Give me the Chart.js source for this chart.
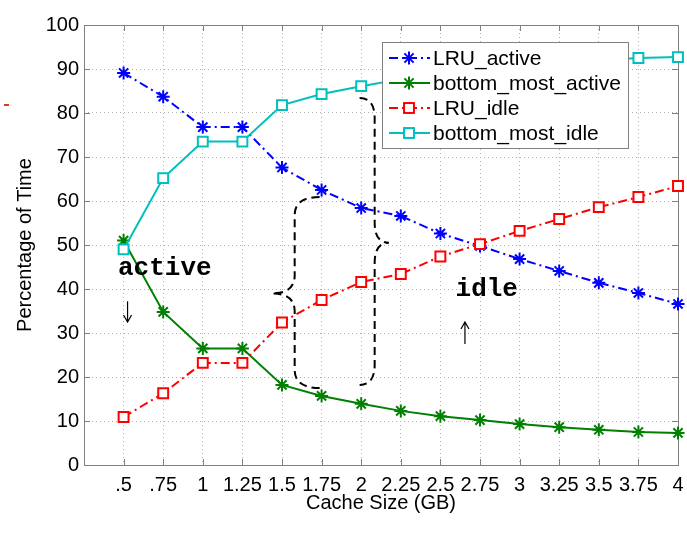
<!DOCTYPE html>
<html>
<head>
<meta charset="utf-8">
<script src="https://cdn.jsdelivr.net/npm/chart.js@4.4.1/dist/chart.umd.min.js"></script>
<style>
  html, body { margin: 0; padding: 0; background: #fff; }
  #wrap { width: 687px; height: 538px; position: relative; }
</style>
</head>
<body>
<div id="wrap"><canvas id="c"></canvas></div>
<script>
// ---- data ----
const xLabels = ['.5', '.75', '1', '1.25', '1.5', '1.75', '2', '2.25', '2.5', '2.75', '3', '3.25', '3.5', '3.75', '4'];
const lruActive = [89.1, 83.7, 76.8, 76.8, 67.6, 62.5, 58.4, 56.6, 52.6, 49.8, 46.8, 44.1, 41.4, 39.1, 36.6];
const bottomActive = [51.0, 34.8, 26.5, 26.5, 18.2, 15.7, 13.9, 12.3, 11.1, 10.2, 9.3, 8.6, 8.0, 7.5, 7.3];
const lruIdle = [10.9, 16.3, 23.2, 23.2, 32.4, 37.5, 41.6, 43.4, 47.4, 50.2, 53.2, 55.9, 58.6, 60.9, 63.4];
const bottomIdle = [49.0, 65.2, 73.5, 73.5, 81.8, 84.3, 86.1, 87.7, 88.9, 89.8, 90.7, 91.4, 92.0, 92.5, 92.7];
const yTicks = [0, 10, 20, 30, 40, 50, 60, 70, 80, 90, 100];

const seriesNames = ['LRU_active', 'bottom_most_active', 'LRU_idle', 'bottom_most_idle'];
const seriesColors = ['#0000ff', '#008000', '#ff0000', '#00bfbf'];

const FONT = 'Liberation Sans, Arial, Helvetica, sans-serif';
const DASHDOT = [9, 4, 2, 4];

const pts = arr => arr.map((v, i) => ({ x: i, y: v }));

const mk = (i, data, style, dash) => ({
  label: seriesNames[i],
  data: pts(data),
  borderColor: seriesColors[i],
  backgroundColor: style === 'rect' ? '#fff' : seriesColors[i],
  borderWidth: 2,
  borderDash: dash,
  pointStyle: style,
  pointRadius: style === 'rect' ? 7 : 6.5,
  pointBorderWidth: 2,
  pointBorderColor: seriesColors[i],
  pointBackgroundColor: style === 'rect' ? '#fff' : seriesColors[i],
  tension: 0,
  clip: false,
  order: 3 - i, // matlab draws later series on top
});

// marker helpers for the hand-drawn legend
function drawStar(ctx, x, y, r) {
  ctx.beginPath();
  ctx.moveTo(x - r, y); ctx.lineTo(x + r, y);
  ctx.moveTo(x, y - r); ctx.lineTo(x, y + r);
  const d = r * Math.SQRT1_2;
  ctx.moveTo(x - d, y - d); ctx.lineTo(x + d, y + d);
  ctx.moveTo(x - d, y + d); ctx.lineTo(x + d, y - d);
  ctx.stroke();
}
function drawSquare(ctx, x, y, r) {
  const s = r * Math.SQRT1_2;
  ctx.fillStyle = '#fff';
  ctx.fillRect(x - s, y - s, 2 * s, 2 * s);
  ctx.strokeRect(x - s, y - s, 2 * s, 2 * s);
}

// curly brace: edge line at ex, curls toward endX at both ends, tip at (tx, ty)
function brace(ctx, ex, top, bottom, tx, ty, endX, r) {
  ctx.beginPath();
  ctx.moveTo(endX, top);
  ctx.quadraticCurveTo(ex, top, ex, top + r);
  ctx.lineTo(ex, ty - r);
  ctx.quadraticCurveTo(ex, ty, tx, ty);
  ctx.quadraticCurveTo(ex, ty, ex, ty + r);
  ctx.lineTo(ex, bottom - r);
  ctx.quadraticCurveTo(ex, bottom, endX, bottom);
  ctx.stroke();
}

function arrow(ctx, x, y1, y2) {
  // y1 = tail, y2 = head
  const dir = y2 > y1 ? 1 : -1;
  ctx.beginPath();
  ctx.moveTo(x, y1); ctx.lineTo(x, y2);
  ctx.moveTo(x - 4, y2 - dir * 7); ctx.lineTo(x, y2); ctx.lineTo(x + 4, y2 - dir * 7);
  ctx.stroke();
}

const decor = {
  id: 'decor',
  beforeDatasetsDraw(chart) {
    // matlab-style box and inward tick marks
    const { ctx, chartArea: a, scales: { x, y } } = chart;
    ctx.save();
    ctx.strokeStyle = '#808080';
    ctx.lineWidth = 1;
    ctx.beginPath();
    xLabels.forEach((_, i) => {
      const px = Math.round(x.getPixelForValue(i)) + 0.5;
      ctx.moveTo(px, a.bottom); ctx.lineTo(px, a.bottom - 6);
      ctx.moveTo(px, a.top); ctx.lineTo(px, a.top + 6);
    });
    yTicks.forEach(v => {
      const py = Math.round(y.getPixelForValue(v)) + 0.5;
      ctx.moveTo(a.left, py); ctx.lineTo(a.left + 6, py);
      ctx.moveTo(a.right, py); ctx.lineTo(a.right - 6, py);
    });
    ctx.stroke();
    ctx.strokeRect(Math.round(a.left) + 0.5, Math.round(a.top) + 0.5, Math.round(a.right - a.left), Math.round(a.bottom - a.top));
    ctx.restore();
  },
  afterDraw(chart) {
    const { ctx, scales: { x, y } } = chart;
    const X = v => x.getPixelForValue(v);
    const Y = v => y.getPixelForValue(v);
    ctx.save();

    // dashed braces
    ctx.strokeStyle = '#000';
    ctx.lineWidth = 2;
    ctx.setLineDash([8, 5]);
    brace(ctx, X(6.34), Y(83.4), Y(18.2), X(6.70), Y(50.5), X(5.96), 20);
    brace(ctx, X(4.32), Y(60.9), Y(17.5), X(3.74), Y(39.0), X(4.95), 18);
    ctx.setLineDash([]);

    // annotations
    ctx.fillStyle = '#000';
    ctx.font = 'bold 26px "Liberation Mono", "DejaVu Sans Mono", monospace';
    ctx.textAlign = 'center';
    ctx.textBaseline = 'middle';
    ctx.fillText('active', X(1.04), Y(44.6));
    ctx.fillText('idle', X(9.17), Y(39.8));
    ctx.lineWidth = 1.2;
    arrow(ctx, X(0.1), Y(37.2), Y(32.5));
    arrow(ctx, X(8.62), Y(27.5), Y(32.5));

    // legend box
    const lx = 382, ly = 42, lw = 246, lh = 106;
    ctx.fillStyle = '#fff';
    ctx.fillRect(lx, ly, lw, lh);
    ctx.strokeStyle = '#808080';
    ctx.lineWidth = 1;
    ctx.strokeRect(lx + 0.5, ly + 0.5, lw, lh);
    const rows = [58, 83, 108, 133];
    const styles = ['star', 'star', 'rect', 'rect'];
    const dashes = [DASHDOT, [], DASHDOT, []];
    ctx.font = '21px ' + FONT;
    ctx.textAlign = 'left';
    rows.forEach((ry, i) => {
      ctx.strokeStyle = seriesColors[i];
      ctx.lineWidth = 2;
      ctx.setLineDash(dashes[i]);
      ctx.beginPath(); ctx.moveTo(389, ry); ctx.lineTo(430, ry); ctx.stroke();
      ctx.setLineDash([]);
      if (styles[i] === 'star') { ctx.strokeStyle = seriesColors[i]; drawStar(ctx, 409, ry, 6.5); }
      else drawSquare(ctx, 409, ry, 7);
      ctx.fillStyle = '#000';
      ctx.fillText(seriesNames[i], 433, ry + 1);
    });

    // stray red mark left of the axes
    ctx.fillStyle = '#d04020';
    ctx.fillRect(4, 104, 5, 2);
    ctx.restore();
  },
};

new Chart(document.getElementById('c'), {
  type: 'line',
  data: {
    datasets: [
      mk(0, lruActive, 'star', DASHDOT),
      mk(1, bottomActive, 'star', []),
      mk(2, lruIdle, 'rect', DASHDOT),
      mk(3, bottomIdle, 'rect', []),
    ],
  },
  plugins: [decor],
  options: {
    responsive: true,
    maintainAspectRatio: false,
    animation: false,
    layout: { padding: { top: 25, right: 9, left: 0, bottom: 0 } },
    plugins: { legend: { display: false }, tooltip: { enabled: false } },
    scales: {
      x: {
        type: 'linear',
        min: -1, max: 14,
        afterBuildTicks: s => { s.ticks = xLabels.map((_, i) => ({ value: i })); },
        afterFit: s => { s.height = 73; s.paddingLeft = 0; s.paddingRight = 0; },
        ticks: {
          autoSkip: false, maxRotation: 0, minRotation: 0, padding: 8,
          color: '#000', font: { family: FONT, size: 20 },
          callback: v => xLabels[v] ?? '',
        },
        grid: { color: '#b0b0b0', drawTicks: false, lineWidth: 1 },
        border: { display: false, dash: [1, 3] },
        title: { display: true, text: 'Cache Size (GB)', color: '#000', font: { family: FONT, size: 20 }, padding: { top: 0, bottom: 23 } },
      },
      y: {
        min: 0, max: 100,
        afterBuildTicks: s => { s.ticks = yTicks.map(v => ({ value: v })); },
        afterFit: s => { s.width = 84; },
        ticks: { padding: 5, color: '#000', font: { family: FONT, size: 20 } },
        grid: { color: '#b0b0b0', drawTicks: false, lineWidth: 1 },
        border: { display: false, dash: [1, 3] },
        title: { display: true, text: 'Percentage of Time', color: '#000', font: { family: FONT, size: 20 }, padding: { top: 13, bottom: 0 } },
      },
    },
  },
});
</script>
</body>
</html>
